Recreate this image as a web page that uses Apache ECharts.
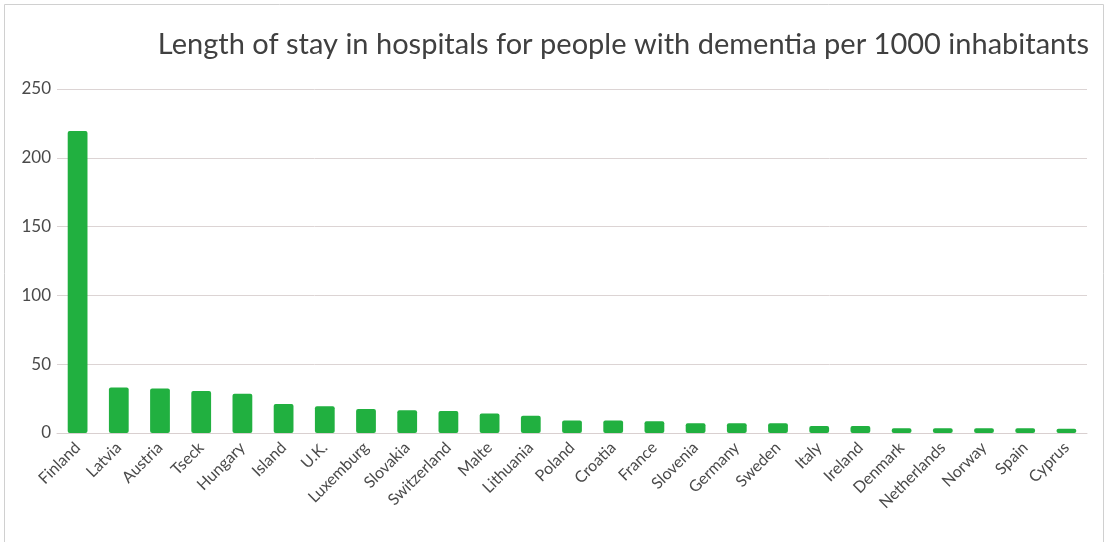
<!DOCTYPE html>
<html>
<head>
<meta charset="utf-8">
<script src="https://cdn.jsdelivr.net/npm/echarts@6/dist/echarts.min.js"></script>
<style>
html,body{margin:0;padding:0;background:#fff;}
#c{width:1108px;height:542px;}
</style>
</head>
<body>
<div id="c"></div>
<script>
const categories = ["Finland","Latvia","Austria","Tseck","Hungary","Island","U.K.","Luxemburg","Slovakia","Switzerland","Malte","Lithuania","Poland","Croatia","France","Slovenia","Germany","Sweden","Italy","Ireland","Denmark","Netherlands","Norway","Spain","Cyprus"];
const values = [219.4,33,32.3,30.6,28.6,21.1,19.4,17.5,16.5,16,14.1,12.6,9,9,8.5,7,7,7,5,5,3.5,3.5,3.5,3.5,3];
const yTicks = [0,50,100,150,200,250];
const titleText = "Length of stay in hospitals for people with dementia per 1000 inhabitants";

const chart = echarts.init(document.getElementById('c'));
chart.setOption({
  animation:false,
  title:{text:titleText,right:14,top:23,textStyle:{fontFamily:'Lato',fontWeight:'normal',fontSize:29,lineHeight:34,color:'#404040'}},
  graphic:[{type:'rect',shape:{x:4.5,y:4.5,width:1099,height:545},style:{fill:'none',stroke:'#d0d0d0',lineWidth:1},silent:true}],
  grid:{left:57,right:21,top:89,bottom:109},
  xAxis:{type:'category',data:categories,
    axisLine:{lineStyle:{color:'#d9d0d0'}},axisTick:{show:false},
    axisLabel:{rotate:45,interval:0,fontFamily:'Lato',fontSize:16,color:'#4a4a4a',margin:12}},
  yAxis:{type:'value',min:yTicks[0],max:yTicks[yTicks.length-1],interval:50,
    axisLine:{show:false},axisTick:{show:false},
    splitLine:{lineStyle:{color:'#dcd4d4'}},
    axisLabel:{fontFamily:'Lato',fontSize:17,color:'#4a4a4a',margin:6}},
  series:[{type:'bar',data:values,barWidth:'48%',itemStyle:{color:'#21b040',borderRadius:2}}]
});
</script>
</body>
</html>
